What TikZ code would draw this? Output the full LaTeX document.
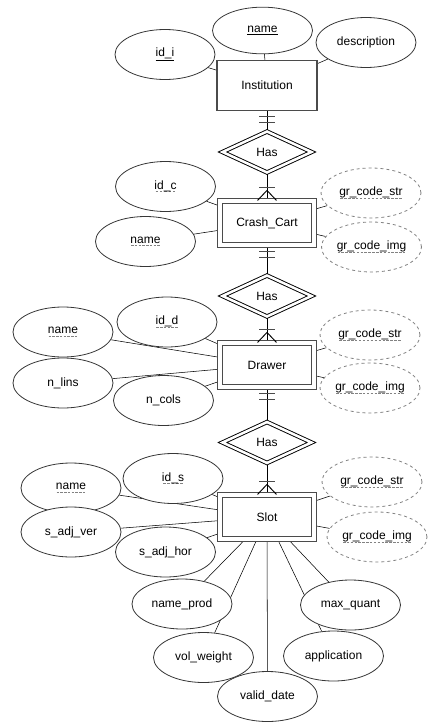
\documentclass[tikz,border=0pt]{standalone}
\usepackage{fontspec}
\setmainfont{Liberation Sans}
\usetikzlibrary{shapes.geometric,backgrounds}
\definecolor{EntityGray}{RGB}{75,75,75}
\definecolor{AttrGray}{RGB}{55,55,55}
\definecolor{KeyGray}{RGB}{130,130,130}
% dashed underline for partial keys
\newcommand{\dashul}[1]{\setbox0\hbox{#1}\leavevmode\rlap{\raisebox{-2.4pt}{\color{KeyGray}\hbox to \wd0{\xleaders\hbox to 2.8pt{\hss\vrule height 0.9pt width 1.9pt\hss}\hfill}}}\box0}

\begin{document}
\begin{tikzpicture}[x=0.75pt, y=-0.75pt, line width=0.7pt, font=\fontsize{9}{11}\selectfont, every node/.style={align=center}]
\tikzset{
  entity/.style={draw=EntityGray, fill=white, line width=0.85pt, minimum width=75pt, minimum height=37pt, inner sep=0pt},
  weakent/.style={entity, double, double distance=2.8pt, minimum width=70.5pt, minimum height=33pt},
  rel/.style={draw, diamond, double, double distance=1.9pt, fill=white, minimum width=67pt, minimum height=31pt, inner sep=0pt},
  attr/.style={draw=AttrGray, ellipse, fill=white, line width=0.6pt, minimum width=75pt, minimum height=37.5pt, inner sep=0pt},
  qrattr/.style={attr, draw=KeyGray, dash pattern=on 2.25pt off 2.25pt},
  pics/mandone/.style={code={\draw[EntityGray] (-8,6) -- (8,6) (-8,12) -- (8,12);}},
  pics/onemany/.style={code={\draw[EntityGray] (-8,-13) -- (8,-13); \draw (-9.5,0) -- (0,-10) -- (9.5,0);}}
}
  \useasboundingbox (0,0) rectangle (446,725);

  % Institution
  \node[entity] (inst) at (267,85.5) {Institution};
  \node[attr] (idi) at (165,54.5) {\underline{id\_i}};
  \node[attr, minimum height=35pt] (namei) at (262.5,30.5) {\underline{name}};
  \node[attr] (desc) at (366,42.5) {description};
  \node[rel] (has1) at (267,152) {Has};

  % Crash_Cart
  \node[weakent] (cart) at (267,223) {Crash\_Cart};
  \node[attr] (idc) at (165.5,186.5) {\dashul{id\_c}};
  \node[attr] (namec) at (145.5,241.5) {\dashul{name}};
  \node[qrattr] (qrsc) at (371,193) {\dashul{gr\_code\_str}};
  \node[qrattr] (qric) at (371.5,247) {\dashul{gr\_code\_img}};
  \node[rel] (has2) at (267,296) {Has};

  % Drawer
  \node[weakent] (drawer) at (267,365) {Drawer};
  \node[attr] (idd) at (167,322) {\dashul{id\_d}};
  \node[attr] (named) at (63,332) {\dashul{name}};
  \node[attr] (nlins) at (63,383) {n\_lins};
  \node[attr] (ncols) at (163.5,400.5) {n\_cols};
  \node[qrattr] (qrsd) at (370,335) {\dashul{gr\_code\_str}};
  \node[qrattr] (qrid) at (370,388) {\dashul{gr\_code\_img}};
  \node[rel] (has3) at (267,442.5) {Has};

  % Slot
  \node[weakent] (slot) at (267,517) {Slot};
  \node[attr] (ids) at (173,478.5) {\dashul{id\_s}};
  \node[attr] (names) at (71,488) {\dashul{name}};
  \node[attr] (sver) at (71,532) {s\_adj\_ver};
  \node[attr] (shor) at (165.5,552) {s\_adj\_hor};
  \node[qrattr] (qrss) at (372,482) {\dashul{gr\_code\_str}};
  \node[qrattr] (qris) at (377,537) {\dashul{gr\_code\_img}};
  \node[attr] (nprod) at (182,604) {name\_prod};
  \node[attr] (volw) at (203.5,657.5) {vol\_weight};
  \node[attr] (valid) at (267.5,696.5) {valid\_date};
  \node[attr] (appl) at (333.5,656) {application};
  \node[attr] (maxq) at (350.5,605) {max\_quant};

  \begin{scope}[on background layer]
    \draw (idi) -- (inst);
    \draw (namei) -- (inst);
    \draw (desc) -- (inst);
    \draw (inst) -- (has1);
    \draw (has1) -- (cart);
    \draw (idc) -- (cart);
    \draw (namec) -- (cart);
    \draw (qrsc) -- (cart);
    \draw (qric) -- (cart);
    \draw (cart) -- (has2);
    \draw (has2) -- (drawer);
    \draw (idd) -- (drawer);
    \draw (named) -- (drawer);
    \draw (nlins) -- (drawer);
    \draw (ncols) -- (drawer);
    \draw (qrsd) -- (drawer);
    \draw (qrid) -- (drawer);
    \draw (drawer) -- (has3);
    \draw (has3) -- (slot);
    \draw (ids) -- (slot);
    \draw (names) -- (slot);
    \draw (sver) -- (slot);
    \draw (shor) -- (slot);
    \draw (qrss) -- (slot);
    \draw (qris) -- (slot);
    \draw (nprod) -- (slot);
    \draw (volw) -- (slot);
    \draw (valid) -- (slot);
    \draw (appl) -- (slot);
    \draw (maxq) -- (slot);
  \end{scope}

  % cardinality marks
  \pic at (inst.south) {mandone};
  \pic at (cart.north) {onemany};
  \pic at (cart.south) {mandone};
  \pic at (drawer.north) {onemany};
  \pic at (drawer.south) {mandone};
  \pic at (slot.north) {onemany};
\end{tikzpicture}
\end{document}
